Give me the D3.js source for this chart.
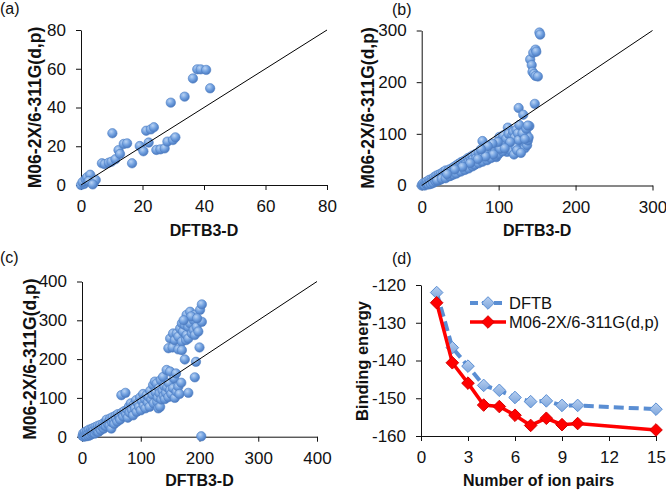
<!DOCTYPE html>
<html><head><meta charset="utf-8">
<script src="https://cdn.jsdelivr.net/npm/d3@7"></script>
<style>html,body{margin:0;padding:0;background:#fff}</style>
</head><body>
<script>
// ---------- DATA ----------
const dataA = [[0,0],[1,0.5],[0.5,1.5],[1.5,3],[2,4],[3,5.3],[2.5,2],[4.2,1.2],[4.8,2.6],[3.8,0.3],
 [6.8,11.2],[7.7,10.8],[9,11.5],[9.9,12],[10.2,26.7],[11.2,13.3],[12.2,18],[12.7,16],[13.9,21.2],[15,21.5],
 [16.6,11.2],[19.1,20.1],[20.3,17.4],[21.2,28],[22,21.9],[22.7,28.7],[23.7,29.8],[24.5,18.1],[25.8,18.4],[27.2,18.9],
 [28.1,22.4],[29.2,42.5],[29.9,23.2],[30.7,24.6],[33.7,45.6],[36.4,55],[37.8,59.7],[38.9,59.7],[40.7,59.4],[42,49.9]];

const dataB = [[0,0],[1,2],[2,4],[3,1],[4,0],[5,6],[6,3],[7,8],[8,4],[9,2],[10,11],[11,7],[12,3],[13,12],[14,9],
 [15,5],[16,16],[17,11],[18,8],[19,19],[20,13],[21,9],[22,21],[23,17],[24,11],[25,23],[26,18],[27,15],[28,26],[29,19],
 [30,16],[31,29],[32,23],[33,17],[34,28],[35,22],[36,31],[37,26],[38,19],[39,33],[40,27],[41,24],[42,36],[43,28],[44,25],
 [45,39],[46,33],[47,26],[48,42],[49,36],[50,29],[51,45],[52,37],[53,33],[54,47],[55,41],[56,34],[57,49],[58,43],[59,36],
 [60,53],[61,46],[62,39],[63,55],[64,48],[65,41],[66,58],[67,51],[68,44],[70,61],[71,53],[72,47],[74,64],[75,56],[76,49],
 [78,66],[79,86],[80,58],[81,51],[83,68],[84,61],[85,54],[87,71],[88,63],[89,57],[91,75],[92,67],[94,77],[95,70],[97,55],
 [98,79],[100,73],[101,94],[103,81],[104,89],[106,97],[108,84],[110,91],[111,65],[112,112],[113,100],[115,76],[116,68],[118,98],[119,104],
 [120,60],[121,93],[123,108],[125,101],[126,150],[127,117],[128,80],[129,91],[130,70],[132,137],[132,76],[133,84],[134,72],[135,95],[136,100],
 [137,78],[138,87],[139,93],[140,115],[141,244],[143,233],[144,220],[145,257],[146,216],[147,158],[148,263],[148,212],[149,259],[151,211],[153,296],[154,292],
 [20,10],[26,13],[31,14],[36,18],[41,21],[45,23],[51,27],[56,30],[61,33],[66,37],[69,40],[74,43],[79,46],[85,49],[90,53],
 [96,57],[100,61],[105,66],[102,71],[93,60],[83,56],[73,51],[63,43],[53,36],[43,31],[33,22],[122,75],[124,68],[126,88],[131,101],
 [136,110],[138,116],[134,90],[129,63],[115,84],[108,72],[99,84],[92,81],[86,76],[77,70]];

const dataC = [[1,2],[2,8],[3,0],[4,5],[5,12],[6,3],[7,1],[8,10],[9,15],[10,6],[11,2],[12,18],[13,9],[14,4],[15,14],
 [16,20],[17,7],[18,11],[19,22],[20,16],[22,8],[23,25],[24,14],[25,19],[27,28],[28,12],[30,22],[31,30],[32,17],[34,26],
 [36,34],[37,21],[38,29],[40,38],[41,27],[42,44],[44,33],[46,40],[47,29],[48,47],[50,21],[51,37],[52,50],[54,43],[55,33],
 [57,54],[58,46],[60,39],[61,58],[63,50],[64,55],[65,44],[67,107],[68,62],[70,52],[72,66],[74,113],[75,58],[77,70],[78,49],
 [80,78],[81,62],[83,86],[85,69],[87,55],[88,82],[90,73],[92,94],[93,64],[95,86],[97,77],[99,101],[100,68],[102,92],[104,110],
 [105,80],[107,97],[108,73],[110,107],[112,88],[114,102],[115,77],[116,118],[118,96],[120,108],[121,133],[122,86],[124,142],[125,115],[127,137],
 [128,90],[129,101],[130,73],[131,125],[132,112],[133,77],[134,146],[135,96],[137,119],[138,154],[139,105],[140,130],[141,97],[143,113],[144,172],
 [145,127],[147,102],[148,138],[150,120],[150,168],[152,110],[155,125],[157,150],[158,100],[160,163],[161,116],[164,129],[166,110],[169,139],[175,199],
 [181,113],[192,153],[194,193],[203,1],[200,230],
 [147,228],[150,253],[154,230],[155,266],[158,249],[161,266],[164,258],[164,225],[167,279],[170,245],[170,223],[172,271],[170,292],[175,288],[177,249],
 [178,262],[178,314],[181,253],[181,283],[184,292],[184,322],[187,266],[190,301],[190,275],[192,262],[192,314],[195,283],[198,271],[201,327],[204,296],
 [204,341],[186,310],[196,305],[173,300]];

const ticksA = [0,20,40,60,80];
const ticksB = [0,100,200,300];
const ticksC = [0,100,200,300,400];

const ionPairs = [1,2,3,4,5,6,7,8,9,10,15];
const dftb = [-122,-136.6,-141.5,-146.6,-147.9,-149.8,-150.9,-150.7,-151.9,-151.9,-152.9];
const m06 = [-124.7,-140.6,-146,-151.8,-152.2,-154.5,-157.2,-155.3,-157,-156.7,-158.4];
const ticksDx = [0,3,6,9,12,15];
const ticksDy = [-120,-130,-140,-150,-160];
const seriesNames = ["DFTB","M06-2X/6-311G(d,p)"];

// ---------- DRAW ----------
const W = 666, H = 492;
const svg = d3.select("body").append("svg").attr("width", W).attr("height", H)
  .style("font-family", "'Liberation Sans', Arial, sans-serif");

const defs = svg.append("defs");
const g1 = defs.append("radialGradient").attr("id","ball").attr("cx","38%").attr("cy","32%").attr("r","70%");
g1.append("stop").attr("offset","0%").attr("stop-color","#b9d3f4");
g1.append("stop").attr("offset","55%").attr("stop-color","#6e9ede");
g1.append("stop").attr("offset","100%").attr("stop-color","#4977bd");
const g2 = defs.append("linearGradient").attr("id","dia").attr("x1","0").attr("y1","0").attr("x2","0").attr("y2","1");
g2.append("stop").attr("offset","0%").attr("stop-color","#b7cff0");
g2.append("stop").attr("offset","100%").attr("stop-color","#7ea6dc");

const fmt = d => String(d);
function styleAxis(g) {
  g.select(".domain").attr("stroke", "#111").attr("stroke-width", 1);
  g.selectAll(".tick line").attr("stroke", "#111");
  g.selectAll(".tick text").attr("fill", "#111").style("font-size", "17px");
}

function scatterPanel(cfg) {
  const x = d3.scaleLinear().domain([0, cfg.max]).range([cfg.x0, cfg.x1]);
  const y = d3.scaleLinear().domain([0, cfg.max]).range([cfg.y0, cfg.y1]);
  const gx = svg.append("g").attr("transform", `translate(0,${cfg.y0})`)
    .call(d3.axisBottom(x).tickValues(cfg.ticks).tickFormat(fmt).tickSize(5).tickPadding(10).tickSizeOuter(0));
  styleAxis(gx);
  const gy = svg.append("g").attr("transform", `translate(${cfg.x0},0)`)
    .call(d3.axisLeft(y).tickValues(cfg.ticks).tickFormat(fmt).tickSize(5).tickPadding(10).tickSizeOuter(0));
  styleAxis(gy);
  svg.append("g").selectAll("circle").data(cfg.data).join("circle")
    .attr("cx", d => x(d[0])).attr("cy", d => y(d[1])).attr("r", 4.7)
    .attr("fill", "url(#ball)").attr("stroke", "#4f80c4").attr("stroke-width", 0.6);
  svg.append("line").attr("x1", x(0)).attr("y1", y(0)).attr("x2", x(cfg.max)).attr("y2", y(cfg.max))
    .attr("stroke", "#000").attr("stroke-width", 1);
  svg.append("text").attr("x", (cfg.x0 + cfg.x1) / 2).attr("y", cfg.xtY).attr("text-anchor", "middle")
    .style("font-size", "16px").style("font-weight", "bold").attr("fill", "#111").text("DFTB3-D");
  svg.append("text").attr("transform", `translate(${cfg.ytX},${(cfg.y0 + cfg.y1) / 2}) rotate(-90)`)
    .attr("text-anchor", "middle").style("font-size", "17.5px").style("font-weight", "bold").attr("fill", "#111")
    .text("M06-2X/6-311G(d,p)");
  svg.append("text").attr("x", cfg.lx).attr("y", cfg.ly).style("font-size", "16px").attr("fill", "#111").text(cfg.label);
}

scatterPanel({data: dataA, max: 80, ticks: ticksA, x0: 81, x1: 327, y0: 185, y1: 30,
  xtY: 236, ytX: 41, lx: 0, ly: 14, label: "(a)"});
scatterPanel({data: dataB, max: 300, ticks: ticksB, x0: 421.7, x1: 652.5, y0: 185.5, y1: 30.5,
  xtY: 236, ytX: 374, lx: 392, ly: 15, label: "(b)"});
scatterPanel({data: dataC, max: 400, ticks: ticksC, x0: 82, x1: 317, y0: 436.7, y1: 281.5,
  xtY: 486, ytX: 36, lx: 0, ly: 263, label: "(c)"});

// Panel (d)
(function () {
  const x = d3.scaleLinear().domain([0, 15]).range([421, 656]);
  const y = d3.scaleLinear().domain([-160, -120]).range([436, 285]);
  const gx = svg.append("g").attr("transform", `translate(0,${y(-160)})`)
    .call(d3.axisBottom(x).tickValues(ticksDx).tickFormat(fmt).tickSize(5).tickPadding(10).tickSizeOuter(0));
  styleAxis(gx);
  const gy = svg.append("g").attr("transform", `translate(${x(0)},0)`)
    .call(d3.axisLeft(y).tickValues(ticksDy).tickFormat(fmt).tickSize(5).tickPadding(10).tickSizeOuter(0));
  styleAxis(gy);

  const diamond = (s) => `M0,${-s}L${s},0L0,${s}L${-s},0Z`;
  const line = d3.line().x(d => x(d[0])).y(d => y(d[1]));
  const dA = ionPairs.map((v, i) => [v, dftb[i]]);
  const dB = ionPairs.map((v, i) => [v, m06[i]]);

  svg.append("path").attr("d", line(dA)).attr("fill", "none").attr("stroke", "#5a8ed3")
    .attr("stroke-width", 4).attr("stroke-dasharray", "10,5");
  svg.append("g").selectAll("path").data(dA).join("path")
    .attr("transform", d => `translate(${x(d[0])},${y(d[1])})`).attr("d", diamond(6.3))
    .attr("fill", "url(#dia)").attr("stroke", "#5a8ed3").attr("stroke-width", 1);

  svg.append("path").attr("d", line(dB)).attr("fill", "none").attr("stroke", "#ff0000")
    .attr("stroke-width", 3.5);
  svg.append("g").selectAll("path").data(dB).join("path")
    .attr("transform", d => `translate(${x(d[0])},${y(d[1])})`).attr("d", diamond(6.3))
    .attr("fill", "#ff0000").attr("stroke", "#d40000").attr("stroke-width", 1);

  // legend
  const lg = svg.append("g");
  lg.append("line").attr("x1", 470).attr("x2", 506).attr("y1", 303).attr("y2", 303)
    .attr("stroke", "#5a8ed3").attr("stroke-width", 4).attr("stroke-dasharray", "8,4");
  lg.append("path").attr("transform", "translate(488,303)").attr("d", diamond(6.3))
    .attr("fill", "url(#dia)").attr("stroke", "#5a8ed3");
  lg.append("text").attr("x", 509).attr("y", 309).style("font-size", "16.5px").attr("fill", "#111").text(seriesNames[0]);
  lg.append("line").attr("x1", 470).attr("x2", 506).attr("y1", 322).attr("y2", 322)
    .attr("stroke", "#ff0000").attr("stroke-width", 3.5);
  lg.append("path").attr("transform", "translate(488,322)").attr("d", diamond(6.3))
    .attr("fill", "#ff0000").attr("stroke", "#d40000");
  lg.append("text").attr("x", 509).attr("y", 328).style("font-size", "16.5px").attr("fill", "#111").text(seriesNames[1]);

  svg.append("text").attr("x", (421 + 656) / 2).attr("y", 486).attr("text-anchor", "middle")
    .style("font-size", "16px").style("font-weight", "bold").attr("fill", "#111").text("Number of ion pairs");
  svg.append("text").attr("transform", `translate(368,361) rotate(-90)`).attr("text-anchor", "middle")
    .style("font-size", "16.5px").style("font-weight", "bold").attr("fill", "#111").text("Binding energy");
  svg.append("text").attr("x", 392).attr("y", 264).style("font-size", "16px").attr("fill", "#111").text("(d)");
})();
</script>
</body></html>
